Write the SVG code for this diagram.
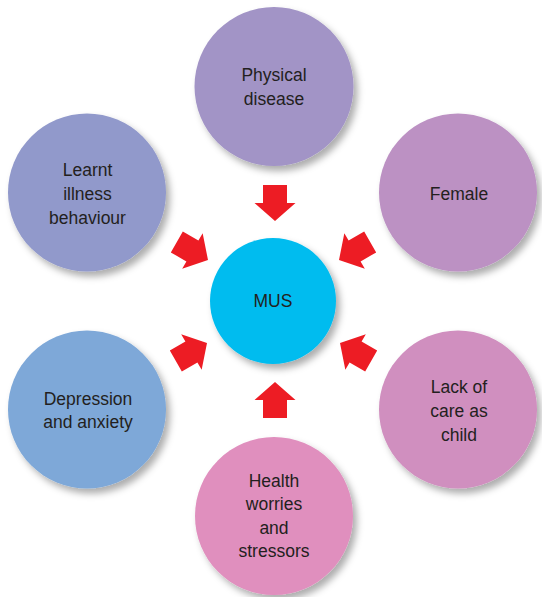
<svg xmlns="http://www.w3.org/2000/svg" width="542" height="597" viewBox="0 0 542 597">
<defs>
<filter id="sh" x="-20%" y="-20%" width="150%" height="150%">
<feDropShadow dx="4" dy="5" stdDeviation="3.5" flood-color="#000" flood-opacity="0.32"/>
</filter>
<path id="arr" d="M0,0 L20.5,-18 L12,-18 L12,-36 L-12,-36 L-12,-18 L-20.5,-18 Z"/>
</defs>
<style>
.t{font-family:"Liberation Sans",Arial,sans-serif;font-size:17.5px;fill:#231F20;text-anchor:middle}
.a{fill:#ED1C24}
</style>
<rect width="542" height="597" fill="#fff"/>
<g id="connectors">
<use href="#arr" class="a" transform="translate(275,221)"/>
<use href="#arr" class="a" transform="translate(208,260) rotate(-60)"/>
<use href="#arr" class="a" transform="translate(339,260) rotate(60)"/>
<use href="#arr" class="a" transform="translate(207,343) rotate(-120)"/>
<use href="#arr" class="a" transform="translate(340,343) rotate(120)"/>
<use href="#arr" class="a" transform="translate(275,382) rotate(180)"/>
</g>
<g id="mus">
<circle cx="273" cy="301" r="63" fill="#00BCEF" filter="url(#sh)"/>
<text class="t" x="273" y="307">MUS</text>
</g>
<g id="physical">
<circle cx="274" cy="86.5" r="79.5" fill="#A294C6" filter="url(#sh)"/>
<text class="t" x="274" y="81">Physical</text>
<text class="t" x="274" y="104.5">disease</text>
</g>
<g id="female">
<circle cx="458" cy="192.5" r="79" fill="#BC91C3" filter="url(#sh)"/>
<text class="t" x="459" y="200">Female</text>
</g>
<g id="lack">
<circle cx="458" cy="409.5" r="79" fill="#D08FBF" filter="url(#sh)"/>
<text class="t" x="459" y="393">Lack of</text>
<text class="t" x="459" y="417">care as</text>
<text class="t" x="459" y="440.5">child</text>
</g>
<g id="health">
<circle cx="274" cy="516" r="79" fill="#E08FBE" filter="url(#sh)"/>
<text class="t" x="274" y="487">Health</text>
<text class="t" x="274" y="510">worries</text>
<text class="t" x="274" y="534">and</text>
<text class="t" x="274" y="557">stressors</text>
</g>
<g id="depression">
<circle cx="87" cy="409.5" r="79" fill="#7EA8D8" filter="url(#sh)"/>
<text class="t" x="88" y="405">Depression</text>
<text class="t" x="88" y="428">and anxiety</text>
</g>
<g id="learnt">
<circle cx="87" cy="192.5" r="79" fill="#9199CB" filter="url(#sh)"/>
<text class="t" x="87.5" y="176">Learnt</text>
<text class="t" x="87.5" y="200">illness</text>
<text class="t" x="87.5" y="224">behaviour</text>
</g>
</svg>
